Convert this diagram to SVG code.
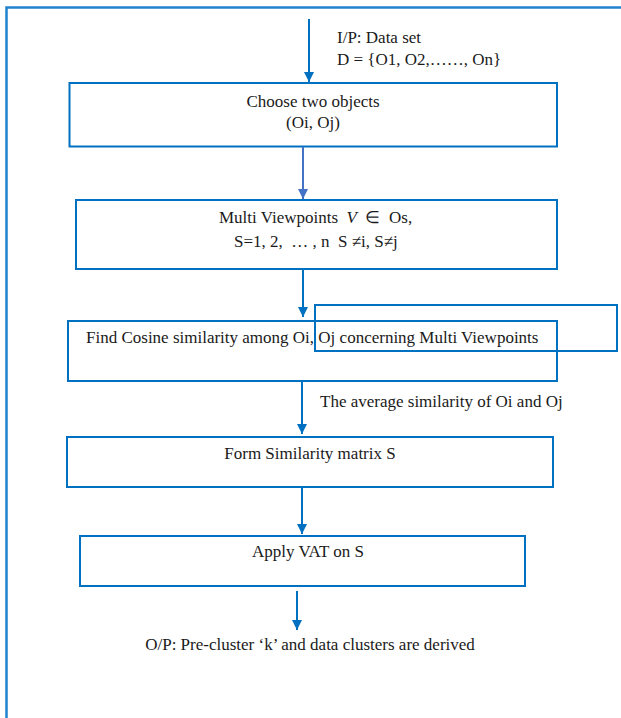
<svg xmlns="http://www.w3.org/2000/svg" width="621" height="718" viewBox="0 0 621 718">
<style>
.box{fill:#ffffff;stroke:#0070C0;stroke-width:2}
.t{font-family:"Liberation Serif","Times New Roman",serif;font-size:17px;fill:#1a1a1a;white-space:pre}
.c{text-anchor:middle}
.con{stroke:#0070C0;stroke-width:2;fill:none}
</style>
<defs>
<marker id="ah" viewBox="0 0 10 10" refX="10" refY="5" markerWidth="10" markerHeight="10" markerUnits="userSpaceOnUse" orient="auto">
<path d="M0,0 L10,5 L0,10 z" fill="#0070C0"/>
</marker>
<marker id="ah2" viewBox="0 0 10 10" refX="10" refY="5" markerWidth="10" markerHeight="10" markerUnits="userSpaceOnUse" orient="auto">
<path d="M0,0 L10,5 L0,10 z" fill="#4472C4"/>
</marker>
</defs>
<rect width="621" height="718" fill="#ffffff"/>
<path d="M6.5,718 V7.5 H621" fill="none" stroke="#2183CE" stroke-width="2.5"/>
<g id="input">
<text class="t" x="337" y="43">I/P: Data set</text>
<text class="t" x="337" y="65">D = {O1, O2,……, On}</text>
</g>
<g id="n1">
<rect class="box" x="69.5" y="83" width="487.5" height="63.5"/>
<text class="t c" x="313" y="107">Choose two objects</text>
<text class="t c" x="313" y="128">(Oi, Oj)</text>
</g>
<g id="n2">
<rect class="box" x="76" y="200" width="481" height="69"/>
<text class="t" x="219" y="223" xml:space="preserve">Multi Viewpoints  <tspan font-style="italic">V</tspan>  ∈  Os,</text>
<text class="t" x="234" y="247" xml:space="preserve">S=1, 2,  … , n  S ≠i, S≠j</text>
</g>
<g id="n3">
<rect class="box" x="68" y="321" width="489" height="60"/>
<text class="t" x="86" y="343">Find Cosine similarity among Oi, Oj concerning Multi Viewpoints</text>
</g>
<g id="n3b">
<rect x="315" y="305" width="302" height="46" fill="none" stroke="#0070C0" stroke-width="2"/>
</g>
<g id="avg">
<text class="t" x="320" y="407">The average similarity of Oi and Oj</text>
</g>
<g id="n4">
<rect class="box" x="67" y="437" width="486" height="50"/>
<text class="t c" x="310" y="459">Form Similarity matrix S</text>
</g>
<g id="n5">
<rect class="box" x="80" y="536" width="445" height="50"/>
<text class="t c" x="308" y="557">Apply VAT on S</text>
</g>
<g id="output">
<text class="t c" x="310" y="650">O/P: Pre-cluster ‘k’ and data clusters are derived</text>
</g>
<g id="connectors">
<line class="con" x1="309" y1="19" x2="309" y2="82" marker-end="url(#ah)"/>
<line x1="303" y1="147" x2="303" y2="199" stroke="#4472C4" stroke-width="2" marker-end="url(#ah2)"/>
<line class="con" x1="303" y1="269" x2="303" y2="317" marker-end="url(#ah)"/>
<line class="con" x1="302" y1="381" x2="302" y2="434" marker-end="url(#ah)"/>
<line class="con" x1="302" y1="487" x2="302" y2="534" marker-end="url(#ah)"/>
<line class="con" x1="297" y1="591" x2="297" y2="630" marker-end="url(#ah)"/>
</g>
</svg>
